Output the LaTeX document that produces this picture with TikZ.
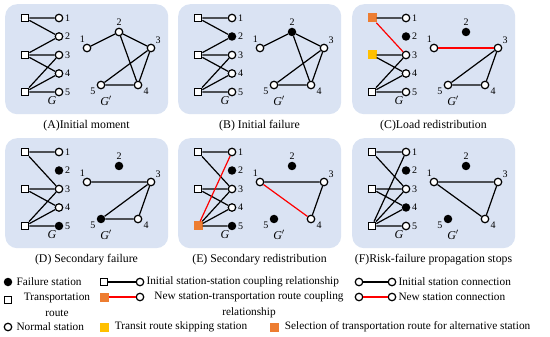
\documentclass[tikz,border=0pt]{standalone}
\usepackage{fontspec}
\setmainfont{Liberation Serif}
\usetikzlibrary{positioning}

\definecolor{panelblue}{RGB}{218,227,243}
\definecolor{routeorange}{RGB}{237,125,49}
\definecolor{routeyellow}{RGB}{255,192,0}

% one panel: #1 name, #2 shift, #3 route styles, #4 station styles, #5 G' styles, #6 caption
\newcommand{\network}[6]{%
  \begin{scope}[shift={#2}]
    \node[panel] (#1bg) at (0,0) {};
    \foreach \st [count=\i] in {#3}
      \node[\st] (#1r\i) at (20,{14+37*(\i-1)}) {};
    \foreach \st [count=\i] in {#4}
      \node[\st, label={[num]right:\i}] (#1s\i) at (54,{14+18.5*(\i-1)}) {};
    \foreach \st [count=\i] in {#5} {
      \pgfmathtruncatemacro\gx{{82,114,146,133,96}[\i-1]}
      \pgfmathtruncatemacro\gy{{44,28,44,81,81}[\i-1]}
      \pgfmathtruncatemacro\ga{{100,90,45,-25,205}[\i-1]}
      \node[\st, label={[num]\ga:\i}] (#1g\i) at (\gx,\gy) {};
    }
    \node[glabel] (#1G) at (47,97) {\textit{G}};
    \node[glabel] (#1Gp) at (101,97) {\textit{G}$'$};
    \node[caption] (#1cap) at (81.5,121.5) {#6};
  \end{scope}}

\begin{document}
\begin{tikzpicture}[x=1pt, y=-1pt,
    panel/.style={rectangle, anchor=north west, fill=panelblue, rounded corners=12pt, minimum width=163pt, minimum height=110pt},
    station/.style={circle, draw, fill=white, line width=1.2pt, inner sep=0pt, minimum size=7.5pt},
    failed/.style={circle, fill=black, inner sep=0pt, minimum size=8.5pt},
    route/.style={rectangle, draw, fill=white, line width=1.2pt, inner sep=0pt, minimum size=7.5pt},
    routeorange/.style={rectangle, fill=routeorange, inner sep=0pt, minimum size=9pt},
    routeyellow/.style={rectangle, fill=routeyellow, inner sep=0pt, minimum size=9pt},
    num/.style={font=\fontsize{10}{11}\selectfont, inner sep=1pt, label distance=0.5pt},
    glabel/.style={font=\fontsize{12}{14}\selectfont},
    caption/.style={font=\fontsize{11.8}{13}\selectfont},
    legtext/.style={font=\fontsize{11.3}{15.5}\selectfont, inner sep=1pt},
    link/.style={draw=black, line width=1.2pt},
    newlink/.style={draw=red, line width=1.2pt}
  ]
  \useasboundingbox (0,0) rectangle (550,337);

  % (A)
  \network{A}{(5,4)}{route,route,route}{station,station,station,station,station}{station,station,station,station,station}{(A)Initial moment}
  \draw[link] (Ar1) -- (As1) (Ar1) -- (As2) (Ar2) -- (As2) (Ar2) -- (As3) (Ar2) -- (As4)
              (Ar3) -- (As3) (Ar3) -- (As4) (Ar3) -- (As5);
  \draw[link] (Ag1) -- (Ag2) (Ag2) -- (Ag3) (Ag2) -- (Ag4) (Ag3) -- (Ag5) (Ag5) -- (Ag4) (Ag3) -- (Ag4);

  % (B)
  \network{B}{(178,4)}{route,route,route}{station,failed,station,station,station}{station,failed,station,station,station}{(B) Initial failure}
  \draw[link] (Br1) -- (Bs1) (Br1) -- (Bs2) (Br2) -- (Bs2) (Br2) -- (Bs3) (Br2) -- (Bs4)
              (Br3) -- (Bs3) (Br3) -- (Bs4) (Br3) -- (Bs5);
  \draw[link] (Bg1) -- (Bg2) (Bg2) -- (Bg3) (Bg2) -- (Bg4) (Bg3) -- (Bg5) (Bg5) -- (Bg4) (Bg3) -- (Bg4);

  % (C)
  \network{C}{(352,4)}{routeorange,routeyellow,route}{station,failed,station,station,station}{station,failed,station,station,station}{(C)Load redistribution}
  \draw[link] (Cr1) -- (Cs1) (Cr2) -- (Cs3) (Cr2) -- (Cs4)
              (Cr3) -- (Cs3) (Cr3) -- (Cs4) (Cr3) -- (Cs5);
  \draw[newlink] (Cr1) -- (Cs3);
  \draw[link] (Cg3) -- (Cg5) (Cg5) -- (Cg4) (Cg3) -- (Cg4);
  \draw[newlink] (Cg1) -- (Cg3);

  % (D)
  \network{D}{(5,138)}{route,route,route}{station,failed,station,station,failed}{station,failed,station,station,failed}{(D) Secondary failure}
  \draw[link] (Dr1) -- (Ds1) (Dr1) -- (Ds3) (Dr2) -- (Ds3) (Dr2) -- (Ds4)
              (Dr3) -- (Ds3) (Dr3) -- (Ds4) (Dr3) -- (Ds5);
  \draw[link] (Dg1) -- (Dg3) (Dg3) -- (Dg5) (Dg5) -- (Dg4) (Dg3) -- (Dg4);

  % (E)
  \network{E}{(178,138)}{route,route,routeorange}{station,failed,station,station,failed}{station,failed,station,station,failed}{(E) Secondary redistribution}
  \draw[link] (Er1) -- (Es1) (Er1) -- (Es3) (Er2) -- (Es3) (Er2) -- (Es4)
              (Er3) -- (Es3) (Er3) -- (Es4) (Er3) -- (Es5);
  \draw[newlink] (Er3) -- (Es1);
  \draw[link] (Eg1) -- (Eg3) (Eg3) -- (Eg4);
  \draw[newlink] (Eg1) -- (Eg4);

  % (F)
  \network{F}{(352,138)}{route,route,route}{station,failed,station,failed,station}{station,failed,station,station,failed}{(F)Risk-failure propagation stops}
  \draw[link] (Fr1) -- (Fs1) (Fr1) -- (Fs3) (Fr2) -- (Fs3) (Fr2) -- (Fs4)
              (Fr3) -- (Fs1) (Fr3) -- (Fs3) (Fr3) -- (Fs4) (Fr3) -- (Fs5);
  \draw[link] (Fg1) -- (Fg3) (Fg1) -- (Fg4) (Fg3) -- (Fg4);

  % legend
  \node[failed] (lfail) at (8,282) {};
  \node[legtext, right=3pt of lfail] (lfailtxt) {Failure station};
  \node[route] (lroute) at (8,300) {};
  \node[legtext, align=center] (lroutetxt) at (57,305) {Transportation\\route};
  \node[station] (lnormal) at (8,327) {};
  \node[legtext, right=3pt of lnormal] (lnormaltxt) {Normal station};

  \node[route] (lcsq) at (104,282) {};
  \node[station] (lccirc) at (140,282) {};
  \draw[link] (lcsq) -- (lccirc);
  \node[legtext, right=1pt of lccirc] (lctxt) {Initial station-station coupling relationship};

  \node[routeorange] (lnsq) at (104,297) {};
  \node[station] (lncirc) at (140,297) {};
  \draw[newlink] (lnsq) -- (lncirc);
  \node[legtext, align=center] (lntxt) at (249,305) {New station-transportation route coupling\\relationship};

  \node[routeyellow] (lyellow) at (104,327) {};
  \node[legtext, right=5pt of lyellow] (lyellowtxt) {Transit route skipping station};
  \node[routeorange] (lorange) at (274,327) {};
  \node[legtext, right=5pt of lorange] (lorangetxt) {Selection of transportation route for alternative station};

  \node[station] (lsa) at (359,282) {};
  \node[station] (lsb) at (392,282) {};
  \draw[link] (lsa) -- (lsb);
  \node[legtext, right=1pt of lsb] (lstxt) {Initial station connection};

  \node[station] (lna) at (359,297) {};
  \node[station] (lnb) at (392,297) {};
  \draw[newlink] (lna) -- (lnb);
  \node[legtext, right=1pt of lnb] (lnatxt) {New station connection};
\end{tikzpicture}
\end{document}
